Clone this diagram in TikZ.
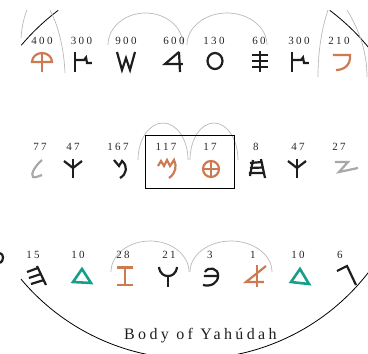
\documentclass[tikz,border=0pt]{standalone}
\usepackage{fontspec}
\setmainfont{Liberation Serif}
\newfontfamily\numfont[LetterSpace=22]{Liberation Serif}
\newfontfamily\titlefont[LetterSpace=21]{Liberation Serif}
\definecolor{gorange}{RGB}{205,122,82}
\definecolor{gteal}{RGB}{22,160,138}
\definecolor{gglyph}{RGB}{168,168,168}
\definecolor{garch}{RGB}{185,185,185}
\definecolor{gink}{RGB}{30,30,30}
\begin{document}
\begin{tikzpicture}[x=1pt,y=-1pt,
  glyph/.style={line width=2.2pt, line cap=butt, line join=miter},
  blk/.style={glyph, draw=gink},
  org/.style={glyph, draw=gorange},
  tea/.style={glyph, draw=gteal, line width=2.6pt},
  gry/.style={glyph, draw=gglyph},
  arch/.style={draw=garch, line width=0.7pt},
  ring/.style={draw=black, line width=0.8pt},
  num/.style={font=\numfont\fontsize{11}{13}\selectfont, anchor=base, inner sep=0pt, text=black!85},
]
\useasboundingbox (0,0) rectangle (368,354);
\clip (0,0) rectangle (368,354);

% ---- black ring arcs
\draw[ring] (194,191) ++(-139.84:226) arc[start angle=-139.84, end angle=-126.93, radius=226];
\draw[ring] (194,191) ++(-53.07:226) arc[start angle=-53.07, end angle=-35, radius=226];
\draw[ring] (192,136) ++(140.1:223) arc[start angle=140.1, end angle=30, radius=223];

% ---- gray arches
\draw[arch] (108,45) arc[start angle=180, end angle=360, x radius=37.5, y radius=32];
\draw[arch] (187,45) arc[start angle=180, end angle=360, x radius=40, y radius=32];
\draw[arch] (138,160) arc[start angle=180, end angle=360, x radius=25, y radius=37];
\draw[arch] (190,160) arc[start angle=180, end angle=360, x radius=24, y radius=37];
\draw[arch] (111,272) arc[start angle=180, end angle=360, x radius=39, y radius=31];
\draw[arch] (190,272) arc[start angle=180, end angle=360, x radius=41, y radius=31];
\draw[arch] (21,38) .. controls (22,26) and (24,17) .. (27,10);
\draw[arch] (50,10) .. controls (58,25) and (64,48) .. (65,73);
\draw[arch] (318,77) .. controls (318,50) and (322,28) .. (328,10);
\draw[arch] (347,10) .. controls (358,28) and (367,50) .. (367,77);

% ---- box
\draw[line width=0.9pt] (145,135) rectangle (234,188);

% ---- row 1 glyphs
\draw[org] (32,62) arc[start angle=180, end angle=360, x radius=10, y radius=9] -- cycle;
\draw[org] (42,53) -- (42,72);
\draw[blk] (75,52) -- (75,72);
\draw[blk] (75,60) -- (84,60) -- (86,57.5) -- (87,63) -- (92,63);
\draw[blk] (117,52) -- (122,70) -- (126,58) -- (130,70) -- (135,52);
\draw[blk] (179,52) -- (180,72);
\draw[blk] (179,52) -- (165,64) -- (183,64);
\draw[blk] (215,61) ellipse[x radius=7.5, y radius=8];
\draw[blk] (260,51) -- (260,72);
\draw[blk] (252,55) -- (268,55) (252,61) -- (268,61) (252,67) -- (268,67);
\draw[blk] (292,52) -- (292,72);
\draw[blk] (292,60) -- (301,60) -- (303,57.5) -- (304,63) -- (309,63);
\draw[org] (333,55) -- (350,55) .. controls (351,64) and (345,70) .. (336,70);

% ---- row 2 glyphs
\draw[gry] (42,160) .. controls (36,165) and (30,174) .. (33,177) .. controls (35,178) and (39,176) .. (42,175);
\draw[blk] (73,159) -- (73,178);
\draw[blk] (64,161) -- (73,168) -- (82,161);
\draw[blk] (114,160) -- (119,166) -- (122,161) .. controls (128,166) and (127,174) .. (120,178);
\draw[org] (158,166) -- (161,161) -- (164,166) -- (167,160) -- (170,166) -- (174,160) .. controls (177,166) and (176,173) .. (169,178);
\draw[org] (211,169) circle[radius=8];
\draw[org] (203,169) -- (219,169) (211,161) -- (211,177);
\draw[blk] (253,160) -- (250,176) (261,159) -- (265,178);
\draw[blk] (250,163) -- (262,162) (250,168) -- (263,167.5) (249,173) -- (264,173);
\draw[blk] (297,159) -- (297,178);
\draw[blk] (288,161) -- (297,168) -- (306,161);
\draw[gry] (335,162) -- (348,162) -- (339,172) -- (358,168);

% ---- row 3 glyphs
\draw[blk] (0,253) .. controls (4,254) and (4,261) .. (0,263);
\draw[blk] (37,266) -- (46,285);
\draw[blk] (27,272) -- (38,268) (29,278) -- (41,274) (31,284) -- (44,280);
\draw[tea] (73,282) -- (82,269) -- (91,283) -- cycle;
\draw[org] (117,267.5) -- (133,267.5) (117,285) -- (133,285) (125,267.5) -- (125,285);
\draw[blk] (159,267) .. controls (160,274) and (164,276) .. (168,276) .. controls (172,276) and (176,274) .. (177,267);
\draw[blk] (168,276) -- (168,287);
\draw[blk] (204,276) -- (218,276) .. controls (219,268) and (208,266) .. (205,272);
\draw[blk] (218,276) .. controls (218,283) and (211,287) .. (203,285);
\draw[org] (257,265) -- (257,287);
\draw[org] (266,266) -- (246,282) -- (264,282);
\draw[tea] (291,282) -- (300,269) -- (309,284) -- cycle;
\draw[blk] (337,271) -- (347,266) -- (356,285);

% ---- numbers
\node[num] (a1) at (42,44) {400};
\node[num] (a2) at (81.5,44) {300};
\node[num] (a3) at (126,44) {900};
\node[num] (a4) at (174,44) {600};
\node[num] (a5) at (214,44) {130};
\node[num] (a6) at (259,44) {60};
\node[num] (a7) at (299,44) {300};
\node[num] (a8) at (339,44) {210};
\node[num] (b1) at (40,150) {77};
\node[num] (b2) at (73,150) {47};
\node[num] (b3) at (118,150) {167};
\node[num] (b4) at (166,150) {117};
\node[num] (b5) at (210,150) {17};
\node[num] (b6) at (256,150) {8};
\node[num] (b7) at (298,150) {47};
\node[num] (b8) at (339,150) {27};
\node[num] (c1) at (33,258) {15};
\node[num] (c2) at (78,258) {10};
\node[num] (c3) at (123,258) {28};
\node[num] (c4) at (169,258) {21};
\node[num] (c5) at (210,258) {3};
\node[num] (c6) at (253,258) {1};
\node[num] (c7) at (298,258) {10};
\node[num] (c8) at (340,258) {6};

% ---- title
\node[font=\titlefont\fontsize{16}{19}\selectfont, anchor=base west, inner sep=0pt, text=gink] (title) at (124,339) {Body of Yahúdah};
\end{tikzpicture}
\end{document}
